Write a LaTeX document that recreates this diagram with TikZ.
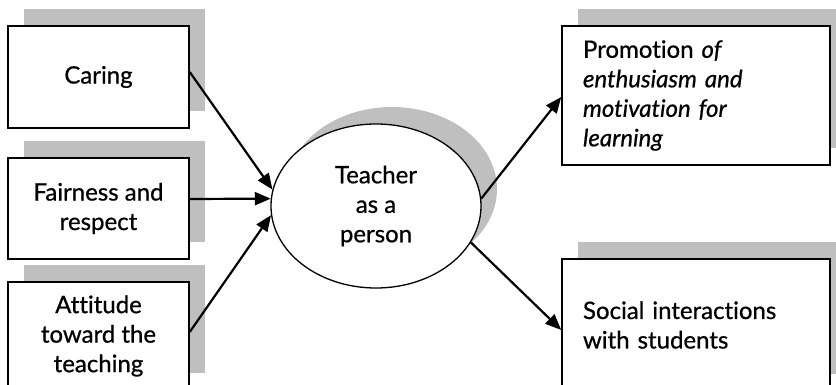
\documentclass[tikz,border=0pt]{standalone}
\usepackage{fontspec}
\setmainfont{Lato}[Ligatures=NoCommon, FakeBold=0.7]
\usetikzlibrary{arrows.meta,shadows,shapes.geometric}
\definecolor{shade}{gray}{0.75}
\begin{document}
\begin{tikzpicture}[x=1pt,y=-1pt,
  every node/.style={font=\fontsize{24}{29.5}\selectfont},
  boxshadow/.style={general shadow={fill=shade, draw=none, shadow xshift=16pt, shadow yshift=17pt}},
  card/.style={draw=black, line width=1.5pt, fill=white, inner sep=0pt, align=center, boxshadow},
  oval/.style={ellipse, draw=black, line width=1.3pt, fill=white, inner sep=0pt, align=center, boxshadow},
  link/.style={line width=2.2pt, -{Triangle[length=16pt,width=13pt]}}
]
\useasboundingbox (0,0) rectangle (836,385);
\begin{scope}
\clip (0,0) rectangle (836,385);

% inputs on the left
\node[card, minimum width=181pt, minimum height=102pt] (caring) at (98.5,77) {Caring};
\node[card, minimum width=181pt, minimum height=101pt] (fair) at (98.5,208.5) {Fairness and\\respect};
\node[card, minimum width=181pt, minimum height=108pt] (attitude) at (98.5,336) {Attitude\\toward the\\teaching};

% centre
\node[oval, minimum width=210pt, minimum height=164pt] (teacher) at (376,206) {Teacher\\as a\\person};

% outcomes on the right
\node[card, minimum width=268pt, minimum height=139pt, text width=226pt, align=left] (promo) at (696,95.5)
  {Promotion \textit{of}\\\textit{enthusiasm and}\\\textit{motivation for}\\\textit{learning}};
\node[card, minimum width=268pt, minimum height=132pt, text width=226pt, align=left] (social) at (696,325)
  {Social interactions\\with students};

% connectors
\draw[link] ([yshift=5pt]caring.east) -- (teacher.171);
\draw[link] ([yshift=9.5pt]fair.east) -- (teacher.176);
\draw[link] ([yshift=4pt]attitude.east) -- (teacher.185);
\draw[link] (teacher.4) -- ([yshift=-1.5pt]promo.west);
\draw[link] (teacher.339) -- ([yshift=-5pt]social.west);
\end{scope}
\end{tikzpicture}
\end{document}
